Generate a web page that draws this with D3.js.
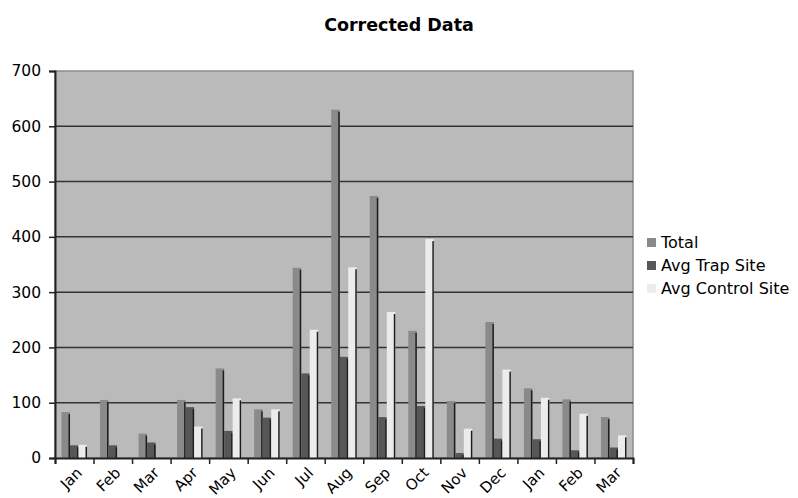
<!DOCTYPE html>
<html>
<head>
<meta charset="utf-8">
<script src="https://cdn.jsdelivr.net/npm/d3@7"></script>
<style>
  body { margin: 0; background: #fff; }
  svg text { font-family: "DejaVu Sans", Verdana, sans-serif; fill: #000; }
</style>
</head>
<body>
<div id="chart"></div>
<script>
// months as shown on the x axis (two years, repeated names)
const months = ["Jan", "Feb", "Mar", "Apr", "May", "Jun", "Jul", "Aug", "Sep", "Oct", "Nov", "Dec", "Jan", "Feb", "Mar"];
const total = [83, 105, 44, 105, 162, 88, 344, 630, 474, 230, 103, 246, 126, 106, 74];
const trapSite = [23, 23, 28, 92, 49, 73, 153, 183, 74, 94, 9, 35, 34, 14, 19];
const controlSite = [24, 0, 0, 57, 108, 88, 232, 345, 264, 396, 53, 160, 109, 80, 41];
const seriesNames = ["Total", "Avg Trap Site", "Avg Control Site"];
const yTicks = [0, 100, 200, 300, 400, 500, 600, 700];

const width = 798;
const height = 498;

const margin = { top: 71, bottom: 40, left: 55, right: 165 };

const svg = d3
  .select("#chart")
  .append("svg")
  .attr("width", width)
  .attr("height", height);

const colors = d3.scaleOrdinal().domain(seriesNames).range(["#8a8a8a", "#575757", "#ececec"]);

const rows = months.map((m, i) => ({
  i: i,
  month: m,
  values: [total[i], trapSite[i], controlSite[i]],
}));

// scales
const xScale = d3
  .scaleBand()
  .domain(d3.range(months.length))
  .range([margin.left, width - margin.right])
  .padding(0);

const xInner = d3
  .scaleBand()
  .domain(seriesNames)
  .range([6.5, xScale.bandwidth() - 6.5]);

const yScale = d3
  .scaleLinear()
  .domain([0, 700])
  .range([height - margin.bottom, margin.top]);

// plot background
svg
  .append("rect")
  .attr("x", margin.left)
  .attr("y", margin.top)
  .attr("width", width - margin.right - margin.left)
  .attr("height", yScale(0) - margin.top)
  .attr("fill", "#bababa")
  .attr("stroke", "#8c8c8c")
  .attr("stroke-width", 1.5);

// gridlines
svg
  .append("g")
  .selectAll("line")
  .data(yTicks.filter((t) => t > 0 && t < 700))
  .enter()
  .append("line")
  .attr("x1", margin.left)
  .attr("x2", width - margin.right)
  .attr("y1", (d) => yScale(d))
  .attr("y2", (d) => yScale(d))
  .attr("stroke", "#333")
  .attr("stroke-width", 1.5);

// bars
const groups = svg
  .append("g")
  .selectAll("g")
  .data(rows)
  .enter()
  .append("g")
  .attr("transform", (d) => `translate(${xScale(d.i)},0)`);

const bars = groups
  .selectAll("g")
  .data((d) => d.values.map((v, k) => ({ key: seriesNames[k], value: v })).filter((b) => b.value > 0))
  .enter()
  .append("g");

bars
  .append("rect")
  .attr("x", (d) => xInner(d.key))
  .attr("y", (d) => yScale(d.value))
  .attr("width", xInner.bandwidth())
  .attr("height", (d) => yScale(0) - yScale(d.value))
  .attr("fill", (d) => colors(d.key));

// dark right edge of each bar
bars
  .append("rect")
  .attr("x", (d) => xInner(d.key) + xInner.bandwidth() - 1.5)
  .attr("y", (d) => Math.min(yScale(d.value) + 2, yScale(0)))
  .attr("width", 1.5)
  .attr("height", (d) => Math.max(0, yScale(0) - yScale(d.value) - 2))
  .attr("fill", "#1e1e1e");

// y axis
const yAxis = svg
  .append("g")
  .attr("transform", `translate(${margin.left},0)`)
  .call(d3.axisLeft(yScale).tickValues(yTicks).tickSize(6).tickPadding(8));

yAxis.select(".domain").attr("stroke", "#222").attr("stroke-width", 2);
yAxis.selectAll(".tick line").attr("stroke", "#222").attr("stroke-width", 1.5);
yAxis.selectAll("text").style("font-size", "15.5px").attr("fill", "#000");

// x axis: tick marks at category boundaries
const xEdges = d3
  .scaleLinear()
  .domain([0, months.length])
  .range([margin.left, width - margin.right]);

const xTicks = svg
  .append("g")
  .attr("transform", `translate(0,${yScale(0)})`)
  .call(d3.axisBottom(xEdges).tickValues(d3.range(months.length + 1)).tickSize(6).tickFormat(""));

xTicks.select(".domain").attr("stroke", "#222").attr("stroke-width", 2);
xTicks.selectAll(".tick line").attr("stroke", "#222").attr("stroke-width", 1.5);

// x axis labels
const xAxis = svg
  .append("g")
  .attr("transform", `translate(0,${yScale(0)})`)
  .call(d3.axisBottom(xScale).tickSize(0).tickFormat((i) => months[i]));

xAxis.select(".domain").remove();
xAxis
  .selectAll("text")
  .style("font-size", "15px")
  .style("text-anchor", "end")
  .attr("y", 0)
  .attr("dy", "0.35em")
  .attr("transform", "translate(5,12) rotate(-45)");

// title
svg
  .append("text")
  .attr("x", 399)
  .attr("y", 31)
  .style("text-anchor", "middle")
  .style("font-size", "17.5px")
  .style("font-weight", "bold")
  .text("Corrected Data");

// legend
const legend = svg.append("g").attr("transform", `translate(647, 248)`);

seriesNames.forEach((name, i) => {
  legend
    .append("rect")
    .attr("x", 0)
    .attr("y", i * 23 - 10)
    .attr("width", 9)
    .attr("height", 9)
    .attr("fill", colors(name));

  legend
    .append("text")
    .attr("x", 14)
    .attr("y", i * 23)
    .style("font-size", "16px")
    .text(name);
});
</script>
</body>
</html>
